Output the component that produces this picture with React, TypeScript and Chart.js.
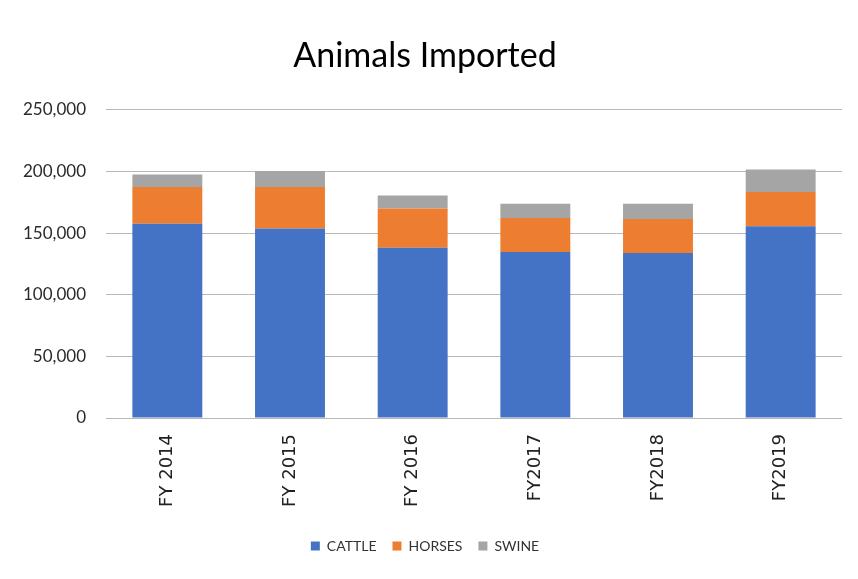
import React, { useEffect, useRef } from "react";
import { Chart, registerables } from "chart.js";

Chart.register(...registerables);

// Fiscal years shown along the x axis
const years = ["FY 2014", "FY 2015", "FY 2016", "FY2017", "FY2018", "FY2019"];

// Head of animals imported per fiscal year
const cattle = [157500, 153700, 138200, 134700, 133900, 155600];
const horses = [29800, 33600, 31700, 27600, 27600, 27800];
const swine = [10200, 13000, 10500, 11400, 12200, 18100];

// Value axis ticks
const yTicks = [0, 50000, 100000, 150000, 200000, 250000];

const WIDTH = 850;
const HEIGHT = 571;

export default function App() {
  const canvasRef = useRef<HTMLCanvasElement | null>(null);

  useEffect(() => {
    const canvas = canvasRef.current;
    if (!canvas) return;

    const bar = { barPercentage: 0.57, categoryPercentage: 1, borderWidth: 0 };

    const chart = new Chart(canvas, {
      type: "bar",
      data: {
        labels: years,
        datasets: [
          { label: "CATTLE", data: cattle, backgroundColor: "#4472C4", ...bar },
          { label: "HORSES", data: horses, backgroundColor: "#ED7D31", ...bar },
          { label: "SWINE", data: swine, backgroundColor: "#A5A5A5", ...bar },
        ],
      },
      options: {
        responsive: false,
        animation: false,
        layout: { padding: { left: 0, right: 16, top: 0, bottom: 16 } },
        plugins: {
          title: {
            display: true,
            text: "Animals Imported",
            color: "#000",
            font: { family: "Lato", size: 34, weight: "normal" },
            padding: { top: 28, bottom: 33 },
          },
          legend: {
            position: "bottom",
            labels: {
              boxWidth: 9,
              boxHeight: 9,
              padding: 16,
              color: "#333",
              font: { family: "Lato", size: 14 },
            },
          },
          tooltip: { enabled: false },
        },
        scales: {
          x: {
            stacked: true,
            grid: { display: false, drawTicks: false },
            border: { display: false },
            ticks: {
              autoSkip: false,
              minRotation: 90,
              maxRotation: 90,
              padding: 16,
              color: "#222",
              font: { family: "DejaVu Sans", size: 18 },
            },
            afterFit: (scale: any) => {
              scale.height = 105;
            },
          },
          y: {
            stacked: true,
            min: 0,
            max: 250000,
            afterBuildTicks: (scale: any) => {
              scale.ticks = yTicks.map((v) => ({ value: v }));
            },
            grid: { color: "#b8b8b8", drawTicks: false },
            border: { display: false },
            ticks: {
              padding: 20,
              color: "#2a2a2a",
              font: { family: "Lato", size: 17 },
              callback: (v: any) => Number(v).toLocaleString("en-US"),
            },
            afterFit: (scale: any) => {
              scale.width = 98;
            },
          },
        },
      },
    });

    return () => chart.destroy();
  }, []);

  return (
    <div
      style={{
        marginLeft: -1,
        marginTop: -1,
        width: WIDTH + 1,
        height: HEIGHT + 1,
        borderTop: "1px solid #888",
        borderLeft: "1px solid #888",
        boxSizing: "border-box",
        background: "#fff",
      }}
    >
      <canvas
        ref={canvasRef}
        width={WIDTH}
        height={HEIGHT}
        style={{ display: "block", width: WIDTH, height: HEIGHT }}
      />
    </div>
  );
}
